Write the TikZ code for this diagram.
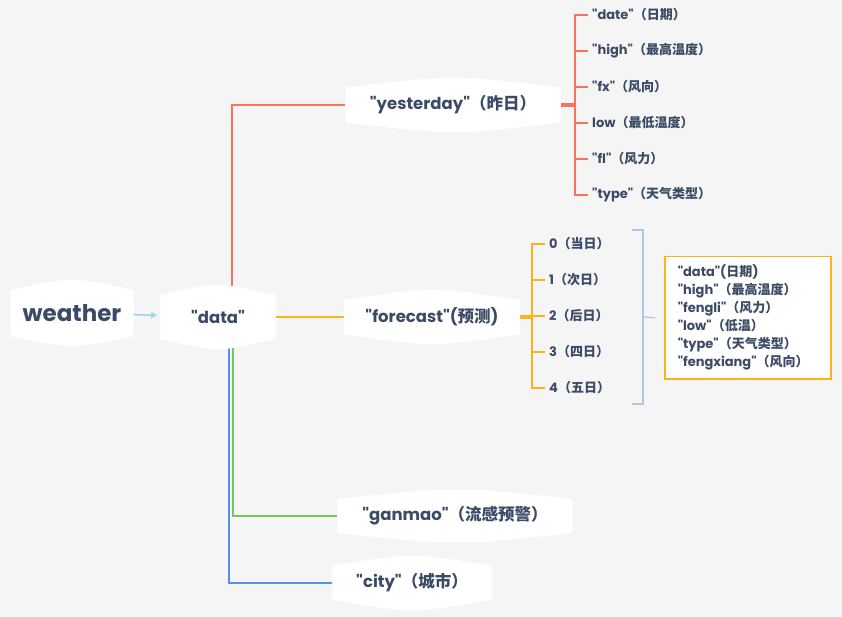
\documentclass[tikz,border=0pt]{standalone}
\usepackage{fontspec}
\setmainfont{Poppins}[Ligatures=TeXOff]
\newfontfamily\zhfont{Noto Sans CJK SC}
\newcommand\zh[1]{{\zhfont #1}}
\usetikzlibrary{arrows.meta}
\definecolor{paper}{HTML}{F5F5F5}
\definecolor{ink}{HTML}{3C4B65}
\definecolor{cred}{HTML}{F7735E}
\definecolor{corange}{HTML}{F9B41B}
\definecolor{cgreen}{HTML}{73C85A}
\definecolor{cblue}{HTML}{4F92E6}
\definecolor{clight}{HTML}{9DD4EE}
\definecolor{cbrk}{HTML}{A9C9E4}
\pgfdeclarelayer{paper}
\pgfdeclarelayer{edges}
\pgfdeclarelayer{fills}
\pgfsetlayers{paper,edges,fills,main}

\begin{document}
\begin{tikzpicture}[x=1pt,y=-1pt,
  topic/.style={inner sep=0pt, text=ink, font=\bfseries\fontsize{16.5}{19}\selectfont},
  leaf/.style={anchor=west, inner sep=4pt, text=ink, font=\bfseries\fontsize{13}{15}\selectfont},
  infobox/.style={draw=corange, line width=1.5pt, fill=white, align=left, text=ink,
    text width=140pt, inner xsep=13pt, minimum height=122pt,
    font=\bfseries\fontsize{13}{18}\selectfont},
  branch/.style={line width=2pt},
  stub/.style={line width=3.5pt}]
\begin{pgfonlayer}{paper}
\fill[paper] (0,0) rectangle (842,617);
\end{pgfonlayer}
\useasboundingbox (0,0) rectangle (842,617);

\node[topic, font=\bfseries\fontsize{23}{27}\selectfont, minimum width=123pt, minimum height=48pt] (weather) at (72,313) {weather};
\node[topic, minimum width=115pt, minimum height=46pt] (data) at (218,317) {"data"};
\node[topic, minimum width=215pt, minimum height=36pt] (yest) at (453,105) {"yesterday"\zh{（昨日）}};
\node[topic, minimum width=176pt, minimum height=36pt] (fore) at (432,317) {"forecast"(\zh{预测})};
\node[topic, minimum width=235pt, minimum height=35pt] (gan) at (455,516) {"ganmao"\zh{（流感预警）}};
\node[topic, minimum width=159pt, minimum height=36pt] (city) at (412,583) {"city"\zh{（城市）}};

% white cards behind the topics
\begin{pgfonlayer}{fills}
\foreach \n in {weather,data,yest,fore,gan,city}
  \fill[white] ([yshift=-6pt]\n.north west) .. controls (\n.north west) .. ([xshift=6pt]\n.north west)
    .. controls ([yshift=12pt]\n.north) .. ([xshift=-6pt]\n.north east)
    .. controls (\n.north east) .. ([yshift=-6pt]\n.north east)
    -- ([yshift=6pt]\n.south east) .. controls (\n.south east) .. ([xshift=-6pt]\n.south east)
    .. controls ([yshift=-12pt]\n.south) .. ([xshift=6pt]\n.south west)
    .. controls (\n.south west) .. ([yshift=6pt]\n.south west) -- cycle;
\end{pgfonlayer}

\draw[clight, line width=1.5pt, -{Latex[length=6pt,width=7pt]}, shorten <=0pt, shorten >=3pt] (weather) -- (data);

\coordinate (rj) at (575,105);
\coordinate (fj) at (532,317);
\foreach \lab [count=\i from 0] in {{"date"\zh{（日期）}},{"high"\zh{（最高温度）}},{"fx"\zh{（风向）}},
    {low\zh{（最低温度）}},{"fl"\zh{（风力）}},{"type"\zh{（天气类型）}}}
  \node[leaf] (y\i) at (588,{15+36*\i}) {\lab};
\foreach \lab [count=\i from 0] in {{0\zh{（当日）}},{1\zh{（次日）}},{2\zh{（后日）}},{3\zh{（四日）}},{4\zh{（五日）}}}
  \node[leaf] (f\i) at (545,{244+36*\i}) {\lab};

\node[infobox, anchor=north west] (info) at (664,256)
  {"data"(\zh{日期})\\"high"\zh{（最高温度）}\\"fengli"\zh{（风力）}\\"low"\zh{（低温）}\\"type"\zh{（天气类型）}\\"fengxiang"\zh{（风向）}};

\begin{pgfonlayer}{edges}
\draw[branch, cred] ([xshift=14pt]data.center) |- (yest);
\draw[branch, corange] (data) -- (fore);
\draw[branch, cgreen] ([xshift=15pt]data.center) |- (gan);
\draw[branch, cblue] ([xshift=11pt]data.center) |- (city);
\draw[stub, cred] (yest) -- (rj);
\draw[stub, corange] (fore) -- (fj);
\foreach \i in {0,...,5}
  \draw[branch, cred] (rj) |- (y\i.west);
\foreach \i in {0,...,4}
  \draw[branch, corange] (fj) |- (f\i.west);
\end{pgfonlayer}

\coordinate (bt) at (632,230);
\coordinate (bm) at (643,317);
\coordinate (bb) at (632,404);
\draw[cbrk, line width=1.2pt] (bt) -| (bm) |- (bb);
\draw[cbrk, line width=1.2pt] (bm) -- ([xshift=-9pt]info.west);
\end{tikzpicture}
\end{document}
